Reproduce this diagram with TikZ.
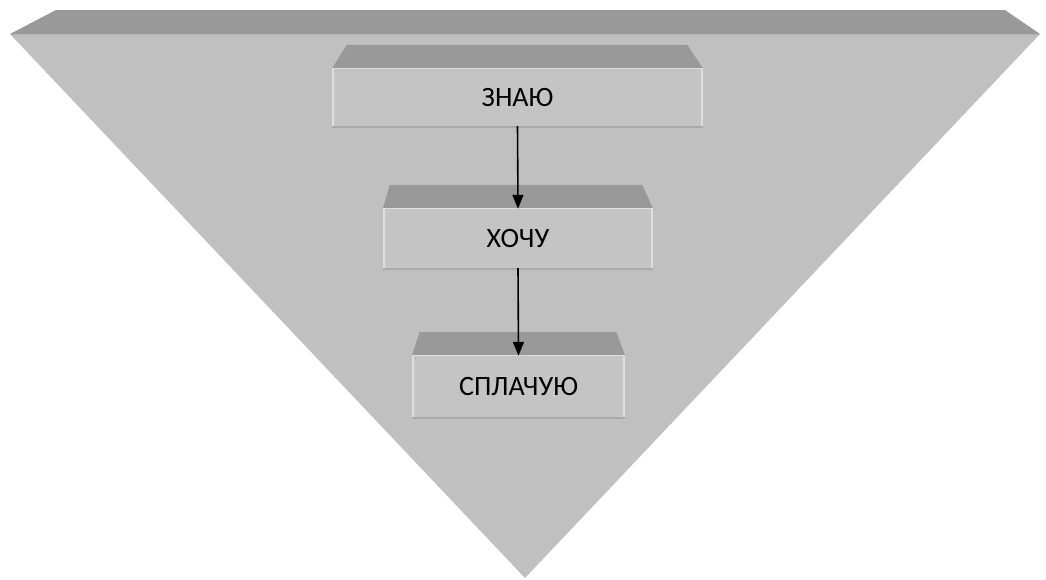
\documentclass[tikz,border=0pt]{standalone}
\usepackage{fontspec}
\setmainfont{Carlito}
\usetikzlibrary{arrows.meta}
\definecolor{facegray}{RGB}{192,192,192}
\definecolor{boxgray}{RGB}{196,196,196}
\definecolor{bandgray}{RGB}{153,153,153}
\definecolor{edgelight}{RGB}{222,222,222}
\definecolor{edgedark}{RGB}{170,170,170}
\tikzset{
  facebox/.style={fill=boxgray, draw=none, inner sep=0pt, font=\fontsize{28}{32}\selectfont, text=black},
  bevel/.style={fill=bandgray, draw=none},
  flowarrow/.style={draw=black, line width=1.6pt, -{Triangle[length=14pt,width=11pt]}}
}
\begin{document}
\begin{tikzpicture}[x=1pt,y=-1pt]
\useasboundingbox (0,0) rectangle (1046,579);
% big inverted pyramid
\fill[facegray] (10,34) -- (1040,34) -- (525,578) -- cycle;
\fill[bandgray] (56,10) -- (1005,10) -- (1040,34) -- (10,34) -- cycle;
\fill[black!30!white, opacity=0.35] (10,34) -- (1040,34) -- (1037,37) -- (13,37) -- cycle;
% boxes
\node[facebox, minimum width=371pt, minimum height=57pt] (b1) at (517.5,97.5) {ЗНАЮ};
\fill[bevel] (b1.north west) -- ++(15,-24) -- ([xshift=-16pt,yshift=24pt]b1.north east) -- (b1.north east) -- cycle;
\node[facebox, minimum width=270pt, minimum height=59pt] (b2) at (518,238.5) {ХОЧУ};
\fill[bevel] (b2.north west) -- ++(7,-24) -- ([xshift=-11pt,yshift=24pt]b2.north east) -- (b2.north east) -- cycle;
\node[facebox, minimum width=213pt, minimum height=61pt] (b3) at (518.5,386.5) {СПЛАЧУЮ};
\fill[bevel] (b3.north west) -- ++(8,-24) -- ([xshift=-9pt,yshift=24pt]b3.north east) -- (b3.north east) -- cycle;
% edges of boxes
\foreach \b in {b1,b2,b3}{
  \draw[edgelight, line width=1.5pt] ([xshift=1pt]\b.north west) -- ([xshift=1pt]\b.south west);
  \draw[edgelight, line width=1.5pt] ([xshift=-1pt]\b.north east) -- ([xshift=-1pt]\b.south east);
  \draw[edgedark, line width=1.5pt] ([yshift=-1pt]\b.south west) -- ([yshift=-1pt]\b.south east);
  \draw[edgelight, line width=1pt] (\b.north west) -- (\b.north east);
}
% arrows
\draw[flowarrow] (b1.south) -- (b2.north);
\draw[flowarrow] (b2.south) -- (b3.north);
\end{tikzpicture}
\end{document}
